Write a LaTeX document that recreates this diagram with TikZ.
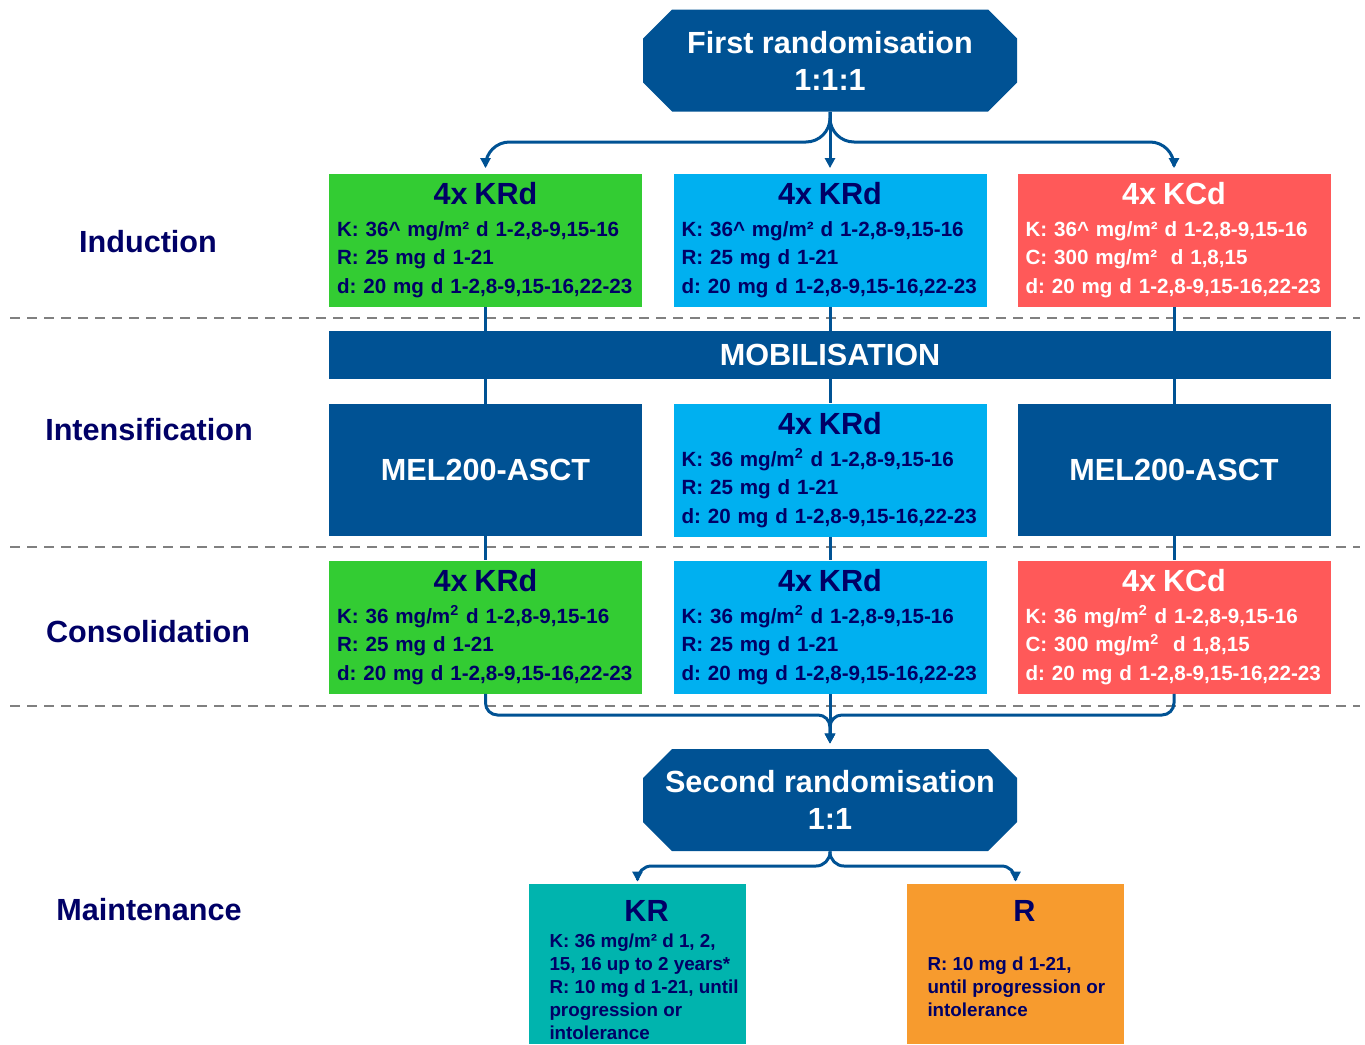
\documentclass[tikz,border=0pt]{standalone}
\usepackage{fontspec}
\setmainfont{Liberation Sans}
\usetikzlibrary{arrows.meta}
\frenchspacing

\definecolor{dblue}{RGB}{0,82,148}
\definecolor{navy}{RGB}{0,0,102}
\definecolor{kgreen}{RGB}{51,204,51}
\definecolor{kcyan}{RGB}{0,176,240}
\definecolor{kred}{RGB}{255,89,89}
\definecolor{kteal}{RGB}{0,180,174}
\definecolor{korange}{RGB}{247,155,46}

\newcommand{\hd}[1]{\makebox[\linewidth]{\fontsize{15.3}{18}\selectfont #1}}

\begin{document}
\begin{tikzpicture}[x=0.5pt,y=-0.5pt,
  big/.style={font=\bfseries\fontsize{15.3}{18.5}\selectfont},
  rand/.style={big,text=white,align=center,minimum width=187pt,minimum height=51pt,
    path picture={\fill[dblue] ([xshift=14.5pt]path picture bounding box.north west) -- ([xshift=-14.5pt]path picture bounding box.north east)
      -- ([yshift=-14.5pt]path picture bounding box.north east) -- ([yshift=14.5pt]path picture bounding box.south east)
      -- ([xshift=-14.5pt]path picture bounding box.south east) -- ([xshift=14.5pt]path picture bounding box.south west)
      -- ([yshift=14.5pt]path picture bounding box.south west) -- ([yshift=-14.5pt]path picture bounding box.north west) -- cycle;}},
  stage/.style={big,text=navy},
  box/.style={font=\bfseries\fontsize{10.3}{14.25}\selectfont,text=navy,text width=148.5pt,inner xsep=4pt,inner ysep=0pt,minimum height=66.5pt,align=left},
  mel/.style={big,fill=dblue,text=white,minimum width=156.5pt,minimum height=66pt},
  mbox/.style={font=\bfseries\fontsize{9.4}{11.5}\selectfont,text=navy,inner xsep=0pt,inner ysep=0pt,minimum width=108.5pt,minimum height=80pt},
  link/.style={dblue,line width=1.5pt},
  flow/.style={link,-{Triangle[length=5pt,width=5pt]},shorten >=2.5pt},
  sep/.style={gray,line width=1.1pt,dash pattern=on 5pt off 3.5pt}]
\useasboundingbox (0,0) rectangle (1365,1044);

\foreach \y in {318,547,706}
  \draw[sep] (10,\y) -- (1360,\y);

\node[stage] (lind) at (148,242) {Induction};
\node[stage] (lint) at (149,430) {Intensification};
\node[stage] (lcons) at (148,632) {Consolidation};
\node[stage] (lmain) at (149,910) {Maintenance};

\node[rand] (r1) at (830,60.5) {First randomisation\\1:1:1};

\node[box,fill=kgreen] (ind1) at (485.5,240) {\hd{4x KRd}\\[1.5pt]K: 36\textasciicircum{} mg/m² d 1-2,8-9,15-16\\R: 25 mg d 1-21\\d: 20 mg d 1-2,8-9,15-16,22-23};
\node[box,fill=kcyan] (ind2) at (830,240) {\hd{4x KRd}\\[1.5pt]K: 36\textasciicircum{} mg/m² d 1-2,8-9,15-16\\R: 25 mg d 1-21\\d: 20 mg d 1-2,8-9,15-16,22-23};
\node[box,fill=kred,text=white] (ind3) at (1174,240) {\hd{4x KCd}\\[1.5pt]K: 36\textasciicircum{} mg/m² d 1-2,8-9,15-16\\C: 300 mg/m²\ \ d 1,8,15\\d: 20 mg d 1-2,8-9,15-16,22-23};

\node[big,fill=dblue,text=white,minimum width=501pt,minimum height=24pt] (mob) at (830,355) {MOBILISATION};

\node[mel] (int1) at (485.5,470) {MEL200-ASCT};
\node[box,fill=kcyan] (int2) at (830,470) {\hd{4x KRd}\\[1.5pt]K: 36 mg/m\textsuperscript{2} d 1-2,8-9,15-16\\R: 25 mg d 1-21\\d: 20 mg d 1-2,8-9,15-16,22-23};
\node[mel] (int3) at (1174,470) {MEL200-ASCT};

\node[box,fill=kgreen] (cons1) at (485.5,627) {\hd{4x KRd}\\[1.5pt]K: 36 mg/m\textsuperscript{2} d 1-2,8-9,15-16\\R: 25 mg d 1-21\\d: 20 mg d 1-2,8-9,15-16,22-23};
\node[box,fill=kcyan] (cons2) at (830,627) {\hd{4x KRd}\\[1.5pt]K: 36 mg/m\textsuperscript{2} d 1-2,8-9,15-16\\R: 25 mg d 1-21\\d: 20 mg d 1-2,8-9,15-16,22-23};
\node[box,fill=kred,text=white] (cons3) at (1174,627) {\hd{4x KCd}\\[1.5pt]K: 36 mg/m\textsuperscript{2} d 1-2,8-9,15-16\\C: 300 mg/m\textsuperscript{2}\ \ d 1,8,15\\d: 20 mg d 1-2,8-9,15-16,22-23};

\node[rand] (r2) at (830,800) {Second randomisation\\1:1};

\node[mbox,fill=kteal] (kr) at (637.5,964) {\hspace*{9pt}\parbox{97pt}{\vspace*{6pt}\hd{KR}\\[1.5pt]K: 36 mg/m² d 1, 2,\\15, 16 up to 2 years*\\R: 10 mg d 1-21, until\\progression or\\intolerance}};
\node[mbox,fill=korange] (rm) at (1015.5,964) {\hspace*{9pt}\parbox{97pt}{\vspace*{6pt}\hd{R}\\[1.5pt]\mbox{}\\R: 10 mg d 1-21,\\until progression or\\intolerance\\\mbox{}}};

\coordinate (s1) at (830,142);
\coordinate (s2) at (830,715);
\coordinate (s3) at (830,866);

\draw[flow,rounded corners=12pt] (r1.south) |- (ind1.north |- s1) [rounded corners=6pt] -- (ind1.north);
\draw[flow] (r1.south) -- (ind2.north);
\draw[flow,rounded corners=12pt] (r1.south) |- (ind3.north |- s1) [rounded corners=6pt] -- (ind3.north);

\foreach \c in {1,2,3} {
  \draw[link] (ind\c.south) -- (ind\c.south |- mob.north);
  \draw[link] (int\c.north |- mob.south) -- (int\c.north);
  \draw[link] (int\c.south) -- (cons\c.north);
}

\draw[flow,rounded corners=6pt] (cons1.south) |- (r2.north |- s2) [rounded corners=12pt] -- (r2.north);
\draw[flow] (cons2.south) -- (r2.north);
\draw[flow,rounded corners=6pt] (cons3.south) |- (r2.north |- s2) [rounded corners=12pt] -- (r2.north);

\draw[flow,shorten >=1pt,rounded corners=7pt] (r2.south) |- (kr.north |- s3) [rounded corners=5pt] -- (kr.north);
\draw[flow,shorten >=1pt,rounded corners=7pt] (r2.south) |- (rm.north |- s3) [rounded corners=5pt] -- (rm.north);
\end{tikzpicture}
\end{document}
